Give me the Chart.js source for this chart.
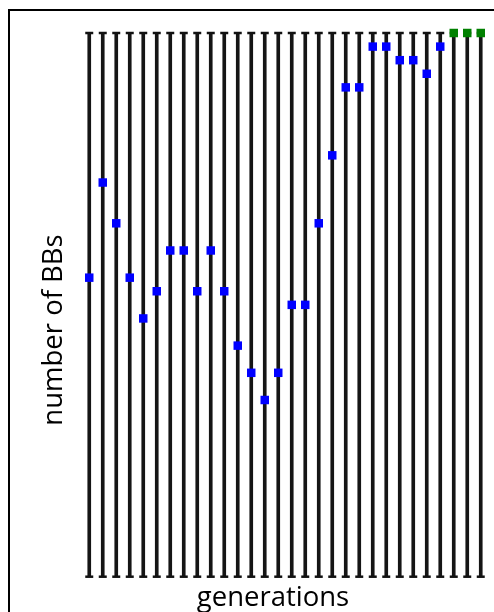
<!DOCTYPE html>
<html>
<head>
<meta charset="utf-8">
<script src="https://cdn.jsdelivr.net/npm/chart.js@4"></script>
<style>
  html, body { margin: 0; padding: 0; background: #fff; overflow: hidden; }
  #wrap { position: relative; width: 494px; height: 612px; }
  #frame { position: absolute; left: 8px; top: 9px; width: 540px; height: 660px; border: 2px solid #000; box-sizing: border-box; }
  canvas { position: absolute; left: 0; top: 0; }
</style>
</head>
<body>
<div id="wrap">
  <div id="frame"></div>
  <canvas id="bbChart" width="494" height="612"></canvas>
</div>
<script>
// generations on the x axis (no tick labels shown)
const generations = [
  "1", "2", "3", "4", "5", "6", "7", "8", "9", "10",
  "11", "12", "13", "14", "15", "16", "17", "18", "19", "20",
  "21", "22", "23", "24", "25", "26", "27", "28", "29", "30",
];

// range of BBs per generation (vertical bars)
const minBBs = [
  0, 0, 0, 0, 0, 0, 0, 0, 0, 0,
  0, 0, 0, 0, 0, 0, 0, 0, 0, 0,
  0, 0, 0, 0, 0, 0, 0, 0, 0, 0,
];
const maxBBs = [
  40, 40, 40, 40, 40, 40, 40, 40, 40, 40,
  40, 40, 40, 40, 40, 40, 40, 40, 40, 40,
  40, 40, 40, 40, 40, 40, 40, 40, 40, 40,
];

// number of BBs of the best individual
const bestBBs = [
  22, 29, 26, 22, 19, 21, 24, 24, 21, 24,
  21, 17, 15, 13, 15, 20, 20, 26, 31, 36,
  36, 39, 39, 38, 38, 37, 39, 40, 40, 40,
];

// green once the maximum is reached
const pointColors = bestBBs.map(function (v, i) {
  return v >= maxBBs[i] ? "#008000" : "#0000ff";
});

const axisTitles = {
  id: "axisTitles",
  afterDraw: function (chart) {
    const ctx = chart.ctx;
    ctx.save();
    ctx.fillStyle = "#000000";
    ctx.font = "27.5px 'Open Sans'";
    ctx.textAlign = "center";
    ctx.textBaseline = "alphabetic";
    ctx.fillText("generations", 273, 606);
    ctx.translate(62, 330);
    ctx.rotate(-Math.PI / 2);
    ctx.fillText("number of BBs", 0, 0);
    ctx.restore();
  },
};

const ctx = document.getElementById("bbChart").getContext("2d");
new Chart(ctx, {
  type: "bar",
  data: {
    labels: generations,
    datasets: [
      {
        type: "line",
        label: "best",
        data: bestBBs,
        showLine: false,
        pointStyle: "rect",
        pointRadius: 6,
        pointBorderWidth: 0,
        pointBackgroundColor: pointColors,
        pointBorderColor: pointColors,
        clip: false,
        order: 0,
      },
      {
        type: "line",
        label: "max",
        data: maxBBs,
        showLine: false,
        pointStyle: "line",
        pointRadius: 4,
        pointBorderWidth: 2.5,
        pointBorderColor: "#111111",
        clip: false,
        order: 1,
      },
      {
        type: "line",
        label: "min",
        data: minBBs,
        showLine: false,
        pointStyle: "line",
        pointRadius: 4,
        pointBorderWidth: 2.5,
        pointBorderColor: "#111111",
        clip: false,
        order: 1,
      },
      {
        label: "range",
        data: minBBs.map(function (v, i) {
          return [v, maxBBs[i]];
        }),
        backgroundColor: "#151515",
        barThickness: 3,
        order: 2,
      },
    ],
  },
  options: {
    responsive: false,
    animation: false,
    layout: {
      padding: { left: 82.5, right: 5.9, top: 33, bottom: 35.3 },
    },
    scales: {
      x: { display: false },
      y: { display: false, min: 0, max: 40 },
    },
    plugins: {
      legend: { display: false },
      tooltip: { enabled: false },
    },
  },
  plugins: [axisTitles],
});
</script>
</body>
</html>
